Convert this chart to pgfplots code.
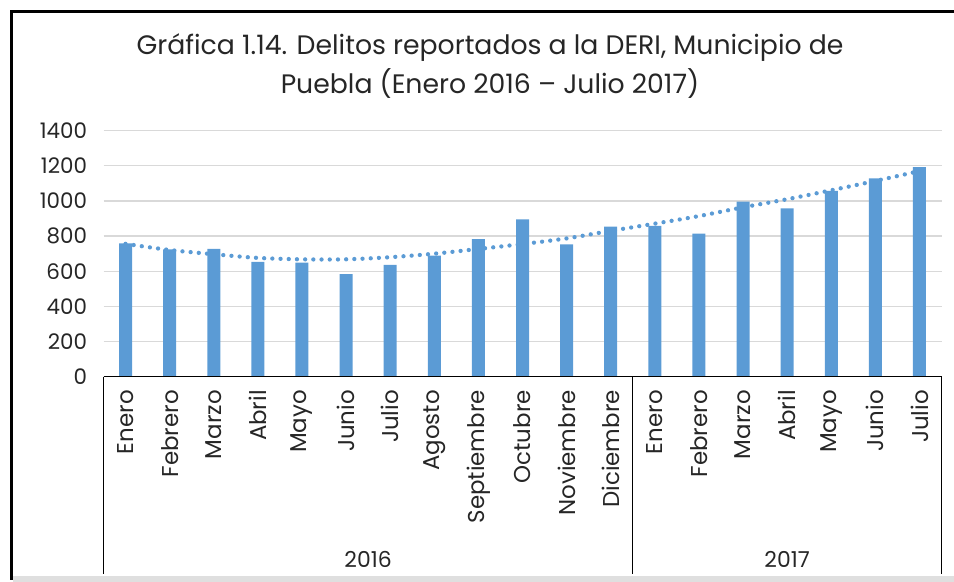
\documentclass[border=0pt]{standalone}
\usepackage{pgfplots}
\pgfplotsset{compat=1.18}
\usepackage{fontspec}
\setmainfont{Poppins}
\definecolor{barblue}{HTML}{5B9BD5}
\definecolor{gridgray}{HTML}{D9D9D9}
\begin{document}
\begin{tikzpicture}[x=1bp,y=1bp]
\path[use as bounding box] (0,0) rectangle (954,582);
% frame
\fill[gray!25] (13,0) rectangle (954,6);
\draw[black, line width=3bp] (11,2) -- (11,570) -- (954,570);
% title
\node[font=\fontsize{26.8}{30}\selectfont, text=black!85] at (490,534) {Gráfica 1.14. Delitos reportados a la DERI, Municipio de};
\node[font=\fontsize{26.8}{30}\selectfont, text=black!85] at (490,498) {Puebla (Enero 2016 – Julio 2017)};
% category axis frame lines
\draw[black, line width=1.4bp] (103.5,205.3) -- (103.5,8);
\draw[black, line width=1.4bp] (632.7,205.3) -- (632.7,8);
\draw[black, line width=1.4bp] (941.5,205.3) -- (941.5,8);
\begin{axis}[
  at={(103.5bp,205.3bp)}, anchor=south west,
  scale only axis, width=838bp, height=246bp,
  xmin=-0.5, xmax=18.5, ymin=0, ymax=1400,
  ytick={0,200,...,1400},
  xtick={0,...,18},
  xticklabels={Enero,Febrero,Marzo,Abril,Mayo,Junio,Julio,Agosto,Septiembre,Octubre,Noviembre,Diciembre,Enero,Febrero,Marzo,Abril,Mayo,Junio,Julio},
  xticklabel shift=10bp,
  yticklabel shift=13bp,
  x tick label style={rotate=90, anchor=east, font=\fontsize{23}{26}\selectfont, text=black!85},
  y tick label style={font=\fontsize{21.5}{24}\selectfont, text=black!85},
  /pgf/number format/assume math mode=true,
  /pgf/number format/1000 sep={},
  axis line style={draw=none},
  major tick length=0pt,
  ymajorgrids, grid style={gridgray, line width=1.3bp},
  clip=false,
]
\addplot[ybar, bar width=13bp, fill=barblue, draw=none] coordinates {
(0,759) (1,725) (2,727) (3,653) (4,649) (5,584) (6,636) (7,689) (8,783)
(9,895) (10,753) (11,854) (12,859) (13,814) (14,996) (15,958) (16,1058) (17,1129) (18,1193)};
\addplot[barblue, smooth, line width=4.3bp, line cap=round, dash pattern=on 0pt off 8.2bp] coordinates {
(0,756) (1,721) (2,697) (3,676) (4,668) (5,668) (6,680) (7,700) (8,727)
(9,755) (10,787) (11,830) (12,871) (13,914) (14,964) (15,1010) (16,1061) (17,1114) (18,1170)};
\draw[black, line width=1.6bp] (axis cs:-0.5,0) -- (axis cs:18.5,0);
\node[font=\fontsize{22}{25}\selectfont, text=black!85] at (axis cs:5.5,0) [yshift=-183bp] {2016};
\node[font=\fontsize{22}{25}\selectfont, text=black!85] at (axis cs:15,0) [yshift=-183bp] {2017};
\end{axis}
\end{tikzpicture}
\end{document}
